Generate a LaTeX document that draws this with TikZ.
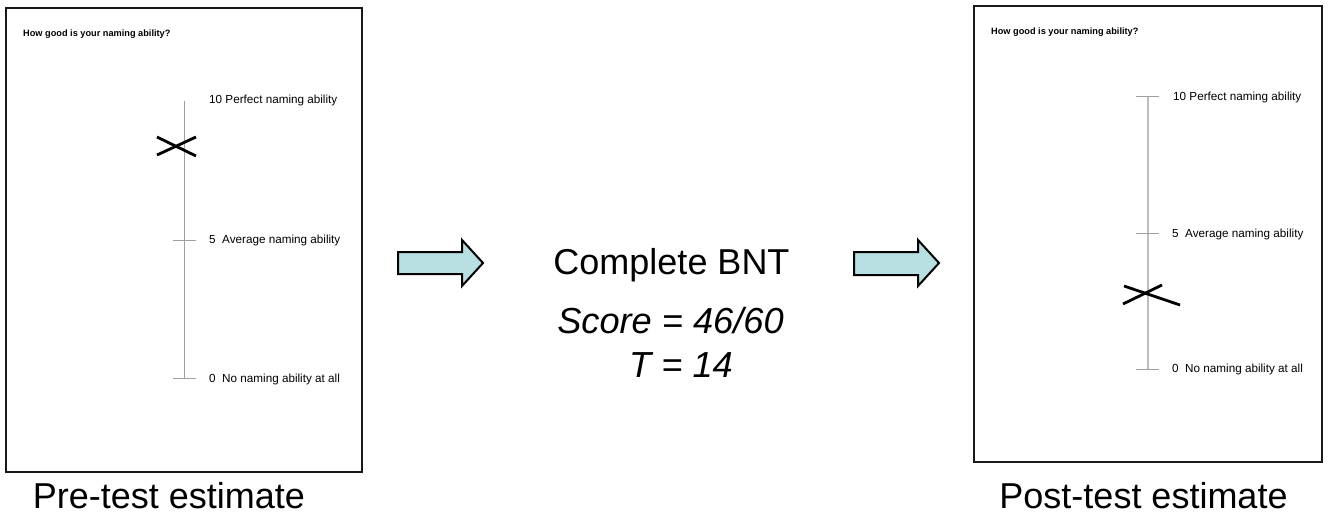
\documentclass[tikz,border=0pt]{standalone}
\usepackage{fontspec}
\setmainfont{Liberation Sans}
\definecolor{arrowfill}{HTML}{B8DFE2}
\definecolor{scalegray}{HTML}{A0A0A0}
\definecolor{scalegraylight}{HTML}{BDBDBD}
\tikzset{
  sheet/.style={draw=black!90, line width=2.5pt},
  heading/.style={font=\fontsize{9.2}{11}\selectfont\bfseries, anchor=base west, inner sep=0pt},
  scalelabel/.style={font=\fontsize{11.7}{13}\selectfont, anchor=base west, inner sep=0pt},
  bigtext/.style={font=\fontsize{36}{40}\selectfont, anchor=base, inner sep=0pt},
  bigit/.style={font=\fontsize{36.2}{40}\selectfont\itshape, anchor=base, inner sep=0pt},
  blockarrow/.style={draw=black, fill=arrowfill, line width=2pt, line join=miter},
  mark cross/.style={draw=black, line width=2.8pt},
  scaleline/.style={draw=scalegray, line width=1pt},
  scaleline2/.style={draw=scalegraylight, line width=1.8pt},
}
\begin{document}
\begin{tikzpicture}[x=1pt,y=-1pt]
\useasboundingbox (0,0) rectangle (1329,516);
% left sheet
\draw[sheet] (6,8) rectangle (362,472);
\node[heading] (h1) at (23,37) {How good is your naming ability?};
\coordinate (l10) at (184,101);
\coordinate (l0) at (184,378);
\draw[scaleline] (l10) -- (l0);
\draw[scaleline] (173,240) -- (196,240);
\draw[scaleline] (173,378) -- (196,378);
\node[scalelabel] (a10) at (209,104) {10 Perfect naming ability};
\node[scalelabel] (a5) at (209,243) {5\ \ Average naming ability};
\node[scalelabel] (a0) at (209,382) {0\ \ No naming ability at all};
\draw[mark cross] (157,155) -- (196,137);
\draw[mark cross] (157,137) -- (196,156);
\node[bigtext] (pre) at (169,508) {Pre-test estimate};
% arrow 1
\draw[blockarrow] (398,252) -- (462,252) -- (462,240) -- (483,263) -- (462,286) -- (462,274) -- (398,274) -- cycle;
% middle text
\node[bigtext] (bnt) at (671.5,274) {Complete BNT};
\node[bigit] (score) at (670.5,333) {Score = 46/60};
\node[bigit] (tval) at (681,377) {T = 14};
% arrow 2
\draw[blockarrow] (854,252) -- (918,252) -- (918,240) -- (939,263) -- (918,286) -- (918,275) -- (854,275) -- cycle;
% right sheet
\draw[sheet] (974,6) rectangle (1322,462);
\node[heading] (h2) at (991,35) {How good is your naming ability?};
\coordinate (r10) at (1148,97);
\coordinate (r0) at (1148,369);
\draw[scaleline2] (r10) -- (r0);
\draw[scaleline] (1136,97) -- (1159,97);
\draw[scaleline] (1136,233) -- (1159,233);
\draw[scaleline] (1136,369) -- (1159,369);
\node[scalelabel] (b10) at (1173,101) {10 Perfect naming ability};
\node[scalelabel] (b5) at (1172,237) {5\ \ Average naming ability};
\node[scalelabel] (b0) at (1172,372) {0\ \ No naming ability at all};
\draw[mark cross] (1123,304) -- (1162,285);
\draw[mark cross] (1124,286) -- (1180,305);
\node[bigtext] (post) at (1143.5,508) {Post-test estimate};
\end{tikzpicture}
\end{document}
